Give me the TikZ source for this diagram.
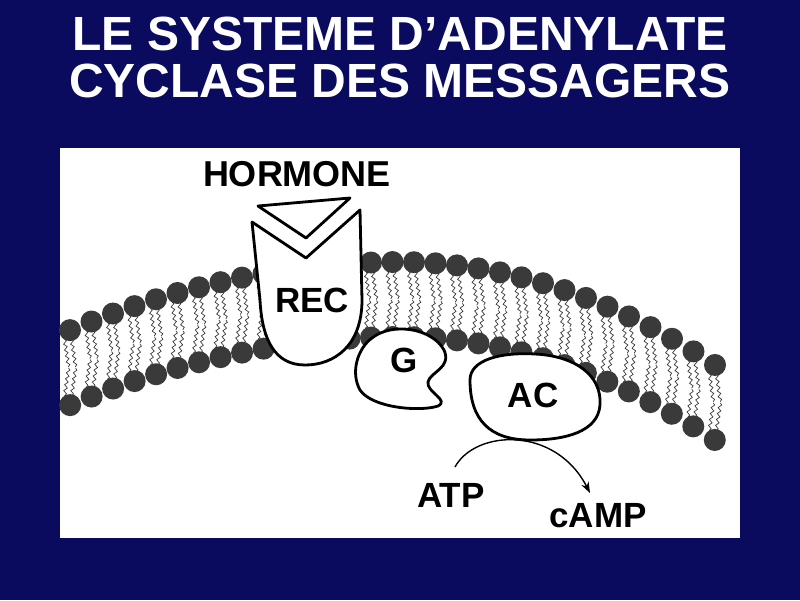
\documentclass[tikz,border=0pt]{standalone}
\usepackage{fontspec}
\setmainfont{Liberation Sans}
\usetikzlibrary{decorations.pathmorphing,arrows.meta}
\definecolor{navy}{HTML}{0A0A5E}
\definecolor{head}{HTML}{3A3A3A}
\begin{document}
\begin{tikzpicture}[x=1pt,y=-1pt,
  prot/.style={draw=black,line width=2.8pt,fill=white,line join=round},
  tail/.style={draw=head,line width=0.7pt,decorate,decoration={snake,segment length=6pt,amplitude=1.6pt}},
  lbl/.style={font=\bfseries\fontsize{35}{37}\selectfont,inner sep=0pt},
  ttl/.style={font=\bfseries\fontsize{48}{50}\selectfont,text=white,inner sep=0pt}]
\fill[navy] (0,0) rectangle (800,600);
\useasboundingbox (0,0) rectangle (800,600);
\fill[white] (60,148) rectangle (740,538);
\node[ttl] (t1) at (400,34) {LE SYSTEME D’ADENYLATE};
\node[ttl] (t2) at (400,81) {CYCLASE DES MESSAGERS};
% membrane
\foreach \x in {70,91.5,...,720}{
  \pgfmathsetmacro{\a}{\x<400 ? 0.000624 : 0.00104}
  \pgfmathsetmacro{\y}{262+\a*(\x-400)*(\x-400)}
  \pgfmathsetmacro{\s}{2*\a*(\x-400)}
  \pgfmathsetmacro{\nx}{-0.35*\s}
  \foreach \o in {-3.5,3.5}{
    \draw[tail] (\x+\o+0.12*\nx-2,\y+9) -- (\x+\o+0.48*\nx+2,\y+37);
    \draw[tail] (\x+\o+0.52*\nx+2,\y+38) -- (\x+\o+0.88*\nx-2,\y+66);
  }
  \fill[head] (\x,\y) circle (11);
  \fill[head] (\x+\nx,\y+75) circle (11);
}
% receptor
\draw[prot] (252,222) -- (306,258) -- (360,210) -- (362,300)
  .. controls (362,345) and (335,365) .. (305,365)
  .. controls (275,365) and (262,340) .. (260,300) -- cycle;
\node[lbl] (rec) at (312,300) {REC};
\draw[prot] (258,206) -- (350,198) -- (306,238) -- cycle;
\node[lbl,font=\bfseries\fontsize{36}{38}\selectfont] (hor) at (297,174) {HORMONE};
% G protein
\draw[prot] (372,338) .. controls (392,322) and (432,328) .. (444,350)
  .. controls (452,368) and (430,372) .. (428,382)
  .. controls (426,392) and (450,400) .. (438,406)
  .. controls (420,412) and (372,408) .. (360,390)
  .. controls (350,372) and (358,348) .. (372,338) -- cycle;
\node[lbl] (g) at (404,360) {G};
% AC
\draw[prot] (470,380) .. controls (470,360) and (500,352) .. (535,354)
  .. controls (575,356) and (602,375) .. (600,405)
  .. controls (598,432) and (565,440) .. (530,440)
  .. controls (490,440) and (470,420) .. (470,380) -- cycle;
\node[lbl] (ac) at (533,395) {AC};
% reaction
\node[lbl] (atp) at (451,495) {ATP};
\node[lbl] (camp) at (598,516) {cAMP};
\coordinate (s) at (455,467);
\coordinate (e) at (590,493);
\draw[line width=1.4pt,-{Stealth[length=11pt,width=8pt]}] (s) .. controls (475,430) and (555,425) .. (e);
\end{tikzpicture}
\end{document}
